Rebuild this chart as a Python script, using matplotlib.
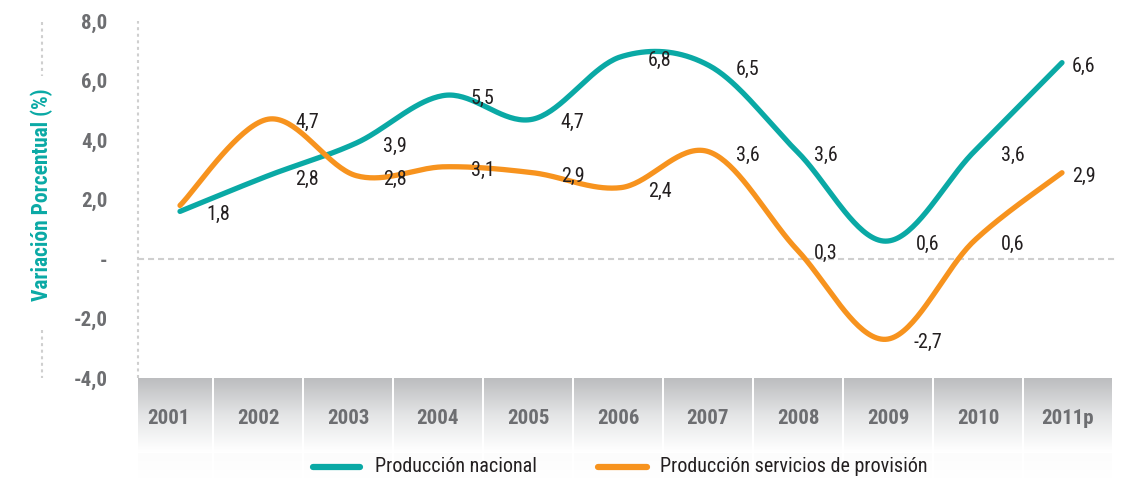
import numpy as np
import matplotlib
matplotlib.use("Agg")
import matplotlib.pyplot as plt
from matplotlib import font_manager
from matplotlib.lines import Line2D
from matplotlib.colors import LinearSegmentedColormap

# ---------------- data ----------------
years = ["2001", "2002", "2003", "2004", "2005", "2006", "2007", "2008", "2009", "2010", "2011p"]
nacional = [1.6, 2.8, 3.9, 5.5, 4.7, 6.8, 6.5, 3.6, 0.6, 3.6, 6.6]
provision = [1.8, 4.7, 2.8, 3.1, 2.9, 2.4, 3.6, 0.3, -2.7, 0.6, 2.9]
nacional_labels = ["1,8", "2,8", "3,9", "5,5", "4,7", "6,8", "6,5", "3,6", "0,6", "3,6", "6,6"]
provision_labels = [None, "4,7", "2,8", "3,1", "2,9", "2,4", "3,6", "0,3", "-2,7", "0,6", "2,9"]
series_names = ["Producción nacional", "Producción servicios de provisión"]
y_ticks = [-4, -2, 0, 2, 4, 6, 8]
y_ticklabels = ["-4,0", "-2,0", "-", "2,0", "4,0", "6,0", "8,0"]
y_title = "Variación Porcentual (%)"

# ---------------- style ----------------
TEAL = "#0aa9a5"
ORANGE = "#f7931e"
GREY_TXT = "#6d6e71"
DARK_TXT = "#231f20"
DOT = "#cfcfcf"

avail = {f.name for f in font_manager.fontManager.ttflist}
FONT = "DejaVu Sans"
for cand in ["Roboto Condensed", "Liberation Sans Narrow", "DejaVu Sans Condensed",
             "Open Sans Condensed", "Roboto", "Liberation Sans"]:
    if cand in avail:
        FONT = cand
        break
plt.rcParams["font.family"] = [FONT, "DejaVu Sans"]

W, H = 1123, 482
fig = plt.figure(figsize=(W / 100, H / 100), dpi=100)


def fx(px):
    return px / W


def fy(py):
    return 1 - py / H


# main axes: plot area 138..1115 px horizontally, y=8 at 21px, y=-4 at 378px
ax_l, ax_r, ax_t, ax_b = 138, 1115, 21, 378
ax = fig.add_axes([fx(ax_l), fy(ax_b), fx(ax_r - ax_l), (ax_b - ax_t) / H])
x0_px, step_px = 180, 88.2
ax.set_xlim(-(x0_px - ax_l) / step_px, (ax_r - x0_px) / step_px)
ax.set_ylim(-4, 8)
for s in ax.spines.values():
    s.set_visible(False)
ax.set_xticks([])
ax.set_yticks(y_ticks)
ax.set_yticklabels(y_ticklabels, fontsize=15, fontweight="bold", color=GREY_TXT)
ax.tick_params(axis="y", length=0, pad=22)

# dotted vertical line at left of plot area and zero line
ax.plot([0, 0], [0, 1], transform=ax.transAxes, color=DOT, lw=1.5,
        ls=(0, (1.45, 1.7)), clip_on=False, zorder=1)
ax.axhline(0, color=DOT, lw=1.5, ls=(0, (2.9, 1.9)), zorder=1)


def smooth(xs, ys, n=40):
    xs = np.asarray(xs, float)
    ys = np.asarray(ys, float)
    P = np.column_stack([xs, ys])
    P = np.vstack([P[0], P, P[-1]])
    out = []
    t = np.linspace(0, 1, n)[:, None]
    for i in range(1, len(P) - 2):
        p0, p1, p2, p3 = P[i - 1], P[i], P[i + 1], P[i + 2]
        c1 = p1 + (p2 - p0) / 6
        c2 = p2 - (p3 - p1) / 6
        seg = ((1 - t) ** 3) * p1 + 3 * ((1 - t) ** 2) * t * c1 + 3 * (1 - t) * t ** 2 * c2 + t ** 3 * p2
        out.append(seg if i == 1 else seg[1:])
    out = np.vstack(out)
    return out[:, 0], out[:, 1]


xi = np.arange(len(years))
sx, sy = smooth(xi, nacional)
ax.plot(sx, sy, color=TEAL, lw=3.8, solid_capstyle="round", zorder=3)
sx, sy = smooth(xi, provision)
ax.plot(sx, sy, color=ORANGE, lw=3.8, solid_capstyle="round", zorder=3)

# data labels
label_dx = [0.43, 0.44, 0.44, 0.43, 0.45, 0.44, 0.44, 0.32, 0.48, 0.44, 0.25]
for i in range(len(years)):
    for vals, labs in ((nacional, nacional_labels), (provision, provision_labels)):
        if labs[i] is None:
            continue
        ax.annotate(labs[i], (i + label_dx[i], vals[i]), xytext=(0, -2.5),
                    textcoords="offset points", ha="center", va="center",
                    fontsize=14.5, color=DARK_TXT, zorder=4)

# y axis title and outer dotted line
fig.text(fx(42), fy(195), y_title, rotation=90, ha="center", va="center",
         fontsize=15.5, fontweight="bold", color=TEAL)
for (ya, yb) in ((22, 76), (330, 378)):
    fig.add_artist(Line2D([fx(42), fx(42)], [fy(ya), fy(yb)], color=DOT, lw=1.5,
                          ls=(0, (1.45, 1.7))))

# category band
band_top = 378
bax = fig.add_axes([fx(ax_l), 0, fx(ax_r - ax_l), fy(band_top)])
bax.axis("off")
cmap = LinearSegmentedColormap.from_list("g", ["#bcbdbf", "#e4e5e6", "#ffffff"])
grad = np.linspace(0, 1, 100)[:, None]
faint = LinearSegmentedColormap.from_list("f", ["#fcfcfc", "#ffffff"])
gap = 1.3 / 90
for i, yr in enumerate(years):
    left = max(i - 0.5 + gap, (ax_l - 168) / 90)
    right = i + 0.5 - gap
    bax.imshow(grad, cmap=cmap, extent=(left, right, 30, H - band_top),
               aspect="auto", origin="upper", interpolation="bilinear")
    bax.imshow(grad, cmap=faint, extent=(left, right, 4, 29),
               aspect="auto", origin="upper", interpolation="bilinear")
    bax.text(i, H - 419, yr, ha="center", va="center", fontsize=15,
             fontweight="bold", color=GREY_TXT)
bax.set_xlim((ax_l - 168) / 90, (ax_r - 168) / 90)
bax.set_ylim(0, H - band_top)

# legend
for (x1, x2, xt, col, name) in ((313, 360, 375, TEAL, series_names[0]),
                                (598, 647, 660, ORANGE, series_names[1])):
    fig.add_artist(Line2D([fx(x1), fx(x2)], [fy(467), fy(467)], color=col, lw=4.5,
                          solid_capstyle="round"))
    fig.text(fx(xt), fy(467), name, ha="left", va="center", fontsize=14.5, color=DARK_TXT)

fig.savefig("out.png", dpi=100)
